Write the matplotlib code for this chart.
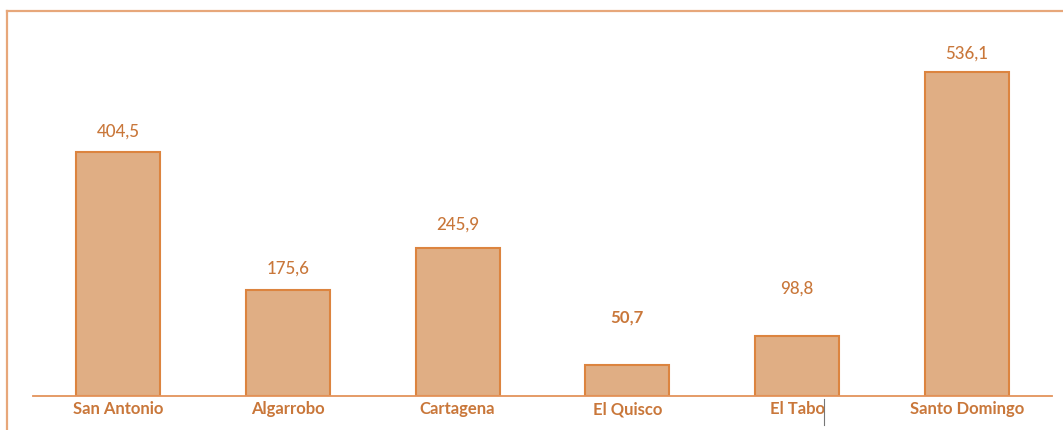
import matplotlib.pyplot as plt
from matplotlib.lines import Line2D

# datos por comuna
comunas = ["San Antonio", "Algarrobo", "Cartagena", "El Quisco", "El Tabo", "Santo Domingo"]
valores = [404.5, 175.6, 245.9, 50.7, 98.8, 536.1]
etiquetas = ["404,5", "175,6", "245,9", "50,7", "98,8", "536,1"]

# estilo de las etiquetas (desplazamiento en pixeles y peso)
desplazamiento = [21, 22, 24, 49, 49, 20]
peso = ["medium", "medium", "medium", "bold", "medium", "medium"]

relleno = "#E0AE84"
borde = "#DC843F"
texto = "#C9773A"

plt.rcParams["font.family"] = ["Lato", "DejaVu Sans"]

W, H = 1063, 431
fig = plt.figure(figsize=(W / 100, H / 100), dpi=100)
ax = fig.add_axes([33 / W, (H - 397) / H, 1019 / W, 385 / H])

x = range(len(comunas))
bars = ax.bar(x, valores, width=0.495, color=relleno, edgecolor=borde, linewidth=1.5)

for b, et, d, w in zip(bars, etiquetas, desplazamiento, peso):
    ax.annotate(
        et,
        (b.get_x() + b.get_width() / 2, b.get_height()),
        xytext=(0, d),
        textcoords="offset pixels",
        ha="center",
        va="center",
        fontsize=12.2,
        color=texto,
        fontweight=w,
    )

ax.set_xlim(-0.5, 5.5)
ax.set_ylim(0, 385 / 0.6035)
ax.set_xticks(list(x))
ax.set_xticklabels(comunas, fontsize=12, fontweight="bold", color=texto)
ax.tick_params(axis="x", length=0, pad=3)
ax.set_yticks([])
for lado in ["top", "right", "left"]:
    ax.spines[lado].set_visible(False)
ax.spines["bottom"].set_color("#E3935A")
ax.spines["bottom"].set_linewidth(1.3)

# marco del grafico (recortado en la imagen original)
fig.add_artist(Line2D([7 / W, 1], [1 - 12 / H, 1 - 12 / H], color="#E7A77A", lw=1.6))
fig.add_artist(Line2D([7 / W, 7 / W], [0, 1 - 12 / H], color="#E7A77A", lw=1.6))
# pequeño cursor junto a "El Tabo"
fig.add_artist(Line2D([824 / W, 824 / W], [1 - 426 / H, 1 - 400 / H], color="#777777", lw=0.8))

fig.savefig("out.png", dpi=100)
